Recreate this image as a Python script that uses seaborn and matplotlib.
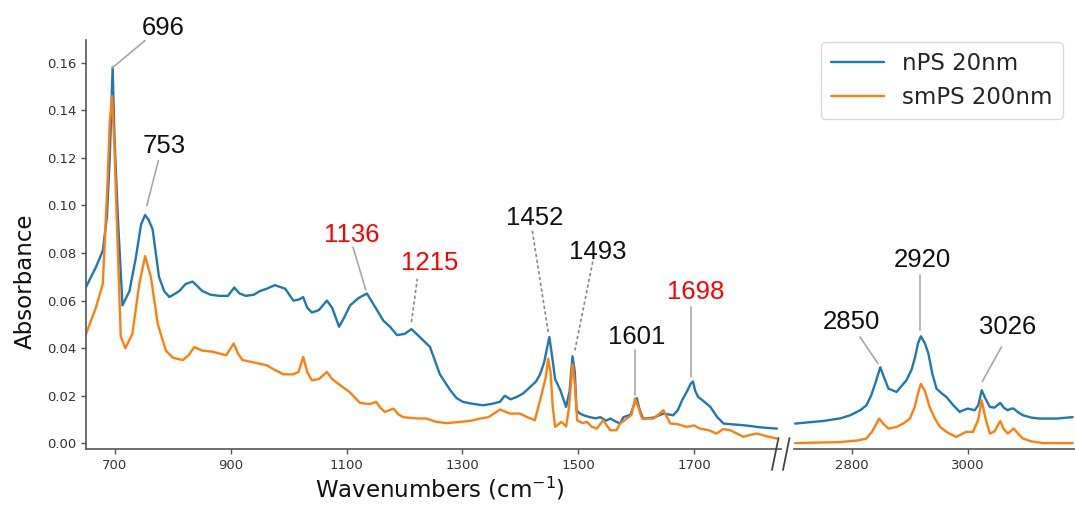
import numpy as np
import pandas as pd
import matplotlib.pyplot as plt
from matplotlib.lines import Line2D
import seaborn as sns

sns.set_theme(style='ticks')
plt.rcParams['font.family'] = ['DejaVu Sans']

# ---- spectra (wavenumber, absorbance) ----
nps_left_wn = [650, 667, 679, 686, 691, 696, 699, 705, 713, 725, 736, 745, 752, 758, 765, 776, 785, 794,
               811, 822, 834, 851, 865, 880, 895, 906, 915, 926, 940, 950, 962, 976, 994, 1008, 1018,
               1025, 1032, 1040, 1052, 1066, 1075, 1087, 1096, 1106, 1120, 1135, 1145, 1155, 1163, 1175,
               1187, 1200, 1212, 1225, 1244, 1261, 1279, 1290, 1301, 1320, 1336, 1353, 1365, 1373, 1383,
               1394, 1405, 1417, 1427, 1434, 1441, 1446, 1450, 1454, 1460, 1469, 1479, 1485, 1490, 1494,
               1497, 1503, 1509, 1520, 1530, 1538, 1548, 1555, 1566, 1572, 1578, 1590, 1598, 1601, 1606,
               1612, 1630, 1647, 1664, 1672, 1679, 1688, 1694, 1698, 1702, 1707, 1715, 1728, 1740, 1751,
               1765, 1785, 1800, 1808, 1825, 1843]
nps_left_abs = [0.0657, 0.074, 0.081, 0.095, 0.120, 0.158, 0.130, 0.095, 0.058, 0.064, 0.078, 0.092, 0.096,
                0.094, 0.090, 0.070, 0.064, 0.0615, 0.064, 0.067, 0.068, 0.064, 0.0625, 0.062, 0.062,
                0.0655, 0.063, 0.062, 0.0625, 0.064, 0.065, 0.0665, 0.065, 0.060, 0.0605, 0.0615, 0.057,
                0.055, 0.056, 0.060, 0.057, 0.049, 0.053, 0.058, 0.061, 0.063, 0.059, 0.055, 0.0517,
                0.049, 0.0455, 0.046, 0.048, 0.045, 0.0405, 0.029, 0.0223, 0.019, 0.0174, 0.0165, 0.016,
                0.0167, 0.0175, 0.020, 0.0185, 0.0195, 0.021, 0.0237, 0.026, 0.029, 0.034, 0.040, 0.0447,
                0.038, 0.027, 0.0223, 0.0153, 0.022, 0.0366, 0.030, 0.0139, 0.0125, 0.0118, 0.011,
                0.0105, 0.011, 0.0095, 0.0104, 0.009, 0.0083, 0.011, 0.012, 0.0174, 0.019, 0.014,
                0.0104, 0.0108, 0.0125, 0.0118, 0.014, 0.018, 0.022, 0.025, 0.026, 0.022, 0.0195, 0.018,
                0.0153, 0.011, 0.0083, 0.008, 0.0076, 0.0072, 0.0069, 0.0065, 0.0062]

smps_left_wn = [650, 667, 679, 687, 691, 695, 699, 703, 710, 718, 730, 742, 752, 762, 774, 788, 800, 817,
                827, 837, 850, 869, 892, 905, 912, 920, 940, 962, 975, 991, 1008, 1017, 1025, 1032, 1040,
                1052, 1066, 1075, 1089, 1105, 1123, 1140, 1151, 1158, 1166, 1181, 1190, 1198, 1220, 1238,
                1255, 1273, 1296, 1315, 1330, 1345, 1365, 1382, 1399, 1412, 1425, 1437, 1444, 1448, 1452,
                1456, 1460, 1471, 1479, 1484, 1490, 1494, 1498, 1507, 1515, 1523, 1532, 1543, 1555, 1566,
                1572, 1584, 1592, 1598, 1604, 1610, 1630, 1647, 1653, 1659, 1672, 1687, 1700, 1710, 1725,
                1739, 1750, 1762, 1775, 1785, 1796, 1808, 1825, 1843]
smps_left_abs = [0.046, 0.057, 0.067, 0.109, 0.135, 0.146, 0.125, 0.095, 0.045, 0.040, 0.046, 0.067,
                 0.0787, 0.070, 0.050, 0.039, 0.036, 0.035, 0.037, 0.0405, 0.039, 0.0385, 0.037, 0.042,
                 0.038, 0.035, 0.034, 0.0328, 0.031, 0.029, 0.029, 0.030, 0.0363, 0.030, 0.0265, 0.027,
                 0.030, 0.027, 0.0244, 0.0216, 0.017, 0.0165, 0.0174, 0.015, 0.0132, 0.0146, 0.012,
                 0.011, 0.0105, 0.0104, 0.009, 0.0085, 0.009, 0.0095, 0.0104, 0.011, 0.0142, 0.0125,
                 0.0125, 0.011, 0.0097, 0.0209, 0.028, 0.0356, 0.030, 0.015, 0.0069, 0.009, 0.0071,
                 0.015, 0.0332, 0.025, 0.0097, 0.0085, 0.009, 0.007, 0.0062, 0.0097, 0.0055, 0.0055,
                 0.0083, 0.0104, 0.012, 0.0188, 0.015, 0.0104, 0.0104, 0.0139, 0.011, 0.0083, 0.008,
                 0.0069, 0.0075, 0.0062, 0.0055, 0.0041, 0.006, 0.0055, 0.004, 0.0027, 0.0035, 0.0041,
                 0.003, 0.002]

nps_right_wn = [2702, 2751, 2780, 2797, 2815, 2825, 2833, 2840, 2849, 2855, 2863, 2877, 2894, 2903, 2909,
                2914, 2919, 2926, 2932, 2939, 2946, 2955, 2963, 2975, 2986, 2993, 3000, 3012, 3018, 3024,
                3030, 3038, 3046, 3056, 3062, 3069, 3075, 3079, 3087, 3095, 3110, 3124, 3153, 3181]
nps_right_abs = [0.0083, 0.0094, 0.0105, 0.0118, 0.014, 0.016, 0.020, 0.025, 0.032, 0.028, 0.023, 0.0216,
                 0.0265, 0.031, 0.0363, 0.042, 0.045, 0.042, 0.0377, 0.029, 0.023, 0.021, 0.0195, 0.016,
                 0.0132, 0.014, 0.0146, 0.0139, 0.016, 0.0223, 0.019, 0.0153, 0.015, 0.017, 0.015,
                 0.0139, 0.0146, 0.0146, 0.013, 0.0118, 0.0108, 0.0104, 0.0104, 0.011]

smps_right_wn = [2702, 2740, 2779, 2810, 2825, 2835, 2847, 2855, 2863, 2877, 2890, 2900, 2908, 2914, 2919,
                 2926, 2934, 2943, 2952, 2965, 2980, 2997, 3009, 3018, 3024, 3030, 3038, 3046, 3056, 3062,
                 3069, 3079, 3087, 3095, 3110, 3130, 3181]
smps_right_abs = [0.0001, 0.0003, 0.0005, 0.0012, 0.002, 0.005, 0.0104, 0.008, 0.0062, 0.0069, 0.0085,
                  0.0104, 0.015, 0.021, 0.025, 0.022, 0.0153, 0.0105, 0.0069, 0.0045, 0.0027, 0.0048,
                  0.0048, 0.010, 0.018, 0.011, 0.0041, 0.005, 0.0094, 0.006, 0.0041, 0.0062, 0.004,
                  0.002, 0.0008, 0.0001, 0.0001]

series_names = ['nPS 20nm', 'smPS 200nm']
colors = sns.color_palette('tab10')[:2]

# ---- peak labels: text, leader start (near peak), leader end, text centre ----
left_labels = ['696', '753', '1136', '1215', '1452', '1493', '1601', '1698']
left_peak_x = [696, 755, 1133, 1212, 1448, 1494, 1598, 1694]
left_peak_y = [0.158, 0.100, 0.0646, 0.051, 0.0468, 0.039, 0.0202, 0.0279]
left_end_x = [752, 775, 1111, 1222, 1420, 1526, 1598, 1694]
left_end_y = [0.1694, 0.1189, 0.0825, 0.0692, 0.0903, 0.0776, 0.0391, 0.0573]
left_text_x = [784, 785, 1109, 1244, 1425, 1533, 1601, 1703]
left_text_y = [0.1746, 0.1252, 0.0878, 0.0757, 0.0948, 0.0803, 0.0447, 0.0638]
left_red = [False, False, True, True, False, False, False, True]
left_dashed = [False, False, False, True, True, True, False, False]

right_labels = ['2850', '2920', '3026']
right_peak_x = [2845, 2917, 3025]
right_peak_y = [0.0335, 0.0475, 0.026]
right_end_x = [2814, 2917, 3058]
right_end_y = [0.0447, 0.0706, 0.0405]
right_text_x = [2799, 2921, 3069]
right_text_y = [0.051, 0.077, 0.0488]

fig = plt.figure(figsize=(10.75, 5.08), dpi=100)
ax1 = fig.add_axes([86 / 1075, 0.1161, 695 / 1075, 0.8052])
ax2 = fig.add_axes([794 / 1075, 0.1161, 281 / 1075, 0.8052])

left_data = [(nps_left_wn, nps_left_abs), (smps_left_wn, smps_left_abs)]
right_data = [(nps_right_wn, nps_right_abs), (smps_right_wn, smps_right_abs)]
for name, col, (wx, ay) in zip(series_names, colors, left_data):
    sns.lineplot(x=wx, y=ay, ax=ax1, color=col, lw=1.7, label=name, estimator=None, legend=False,
                 solid_joinstyle='round')
for name, col, (wx, ay) in zip(series_names, colors, right_data):
    sns.lineplot(x=wx, y=ay, ax=ax2, color=col, lw=1.7, estimator=None, legend=False,
                 solid_joinstyle='round')

ylim = (-0.0024, 0.1696)
for ax in (ax1, ax2):
    ax.set_ylim(*ylim)
    ax.set_xlabel('')
    ax.set_ylabel('')
    ax.tick_params(axis='both', labelsize=9.5, labelcolor='#333333', color='#555555', length=3.5, width=1)
    for side in ['top', 'right']:
        ax.spines[side].set_visible(False)
    ax.spines['bottom'].set_color('#555555')
    ax.spines['left'].set_color('#555555')
    ax.spines['bottom'].set_linewidth(1.2)
    ax.spines['left'].set_linewidth(1.2)

ax1.set_xlim(650, 1850)
ax1.set_xticks([700, 900, 1100, 1300, 1500, 1700])
ax1.set_yticks(np.arange(0, 0.17, 0.02))
ax1.set_yticklabels([f'{v:.2f}' for v in np.arange(0, 0.17, 0.02)])

ax2.set_xlim(2700, 3185)
ax2.set_xticks([2800, 3000])
ax2.spines['left'].set_visible(False)
ax2.set_yticks([])

# peak annotations
def annotate(ax, labels, px, py, ex, ey, tx, ty, red, dashed):
    for i, lab in enumerate(labels):
        ls = (0, (2, 1.5)) if dashed[i] else '-'
        lc = '#8a8a8a' if dashed[i] else '#a8a8a8'
        ax.plot([px[i], ex[i]], [py[i], ey[i]], color=lc, lw=1.2, ls=ls, clip_on=False)
        ax.text(tx[i], ty[i], lab, ha='center', va='center', fontsize=18.5,
                family=['Liberation Sans', 'DejaVu Sans'],
                color='#ff0000' if red[i] else '#111111', clip_on=False)

annotate(ax1, left_labels, left_peak_x, left_peak_y, left_end_x, left_end_y,
         left_text_x, left_text_y, left_red, left_dashed)
annotate(ax2, right_labels, right_peak_x, right_peak_y, right_end_x, right_end_y,
         right_text_x, right_text_y, [False] * 3, [False] * 3)

# axis break marks
for x0 in (772, 783):
    fig.add_artist(Line2D([x0 / 1075, (x0 + 6.5) / 1075], [1 - 470 / 508, 1 - 438 / 508],
                          color='#444444', lw=1.3))

fig.text(440 / 1075, 1 - 489 / 508, 'Wavenumbers (cm$^{-1}$)', ha='center', va='center', fontsize=16.5,
         color='#111111')
fig.text(25 / 1075, 1 - 281 / 508, 'Absorbance', ha='center', va='center', rotation=90, fontsize=16.5,
         color='#111111')

handles, labels = ax1.get_legend_handles_labels()
fig.legend(handles, labels, loc='upper right', bbox_to_anchor=(1063 / 1075, 1 - 42 / 508),
           borderaxespad=0, fontsize=16.5, frameon=True, handlelength=2.3, edgecolor='#d0d0d0',
           fancybox=True, borderpad=0.45, labelspacing=0.45)

fig.savefig('out.png', dpi=100)
